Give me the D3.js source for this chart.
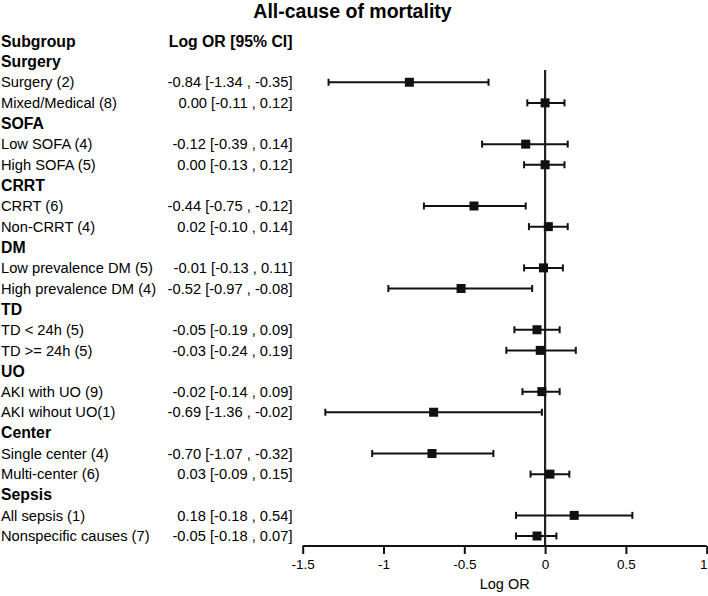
<!DOCTYPE html>
<html><head><meta charset="utf-8">
<script src="https://cdn.jsdelivr.net/npm/d3@7"></script>
<style>body{margin:0;background:#fff}svg{display:block}text{font-family:"Liberation Sans",Arial,sans-serif;fill:#000}</style>
</head><body><svg id="c" width="708" height="596"></svg>
<script>
const groups = ["Surgery","SOFA","CRRT","DM","TD","UO","Center","Sepsis"];
const labels = [
  ["Surgery (2)","Mixed/Medical (8)"],
  ["Low SOFA (4)","High SOFA (5)"],
  ["CRRT (6)","Non-CRRT (4)"],
  ["Low prevalence DM (5)","High prevalence DM (4)"],
  ["TD < 24h (5)","TD >= 24h (5)"],
  ["AKI with UO (9)","AKI wihout UO(1)"],
  ["Single center (4)","Multi-center (6)"],
  ["All sepsis (1)","Nonspecific causes (7)"]
];
const est  = [[-0.84,0.00],[-0.12,0.00],[-0.44,0.02],[-0.01,-0.52],[-0.05,-0.03],[-0.02,-0.69],[-0.70,0.03],[0.18,-0.05]];
const low  = [[-1.34,-0.11],[-0.39,-0.13],[-0.75,-0.10],[-0.13,-0.97],[-0.19,-0.24],[-0.14,-1.36],[-1.07,-0.09],[-0.18,-0.18]];
const high = [[-0.35,0.12],[0.14,0.12],[-0.12,0.14],[0.11,-0.08],[0.09,0.19],[0.09,-0.02],[-0.32,0.15],[0.54,0.07]];
const ticks = [-1.5,-1,-0.5,0,0.5,1];

const svg = d3.select("#c");
const x = d3.scaleLinear().domain([-1.5,1]).range([302.7,706.7]);
const nRows = 1 + groups.length*3;
const y = d3.scaleLinear().domain([0, nRows-1]).range([41, 536]);

const fmt = v => (v<0?"-":"") + Math.abs(v).toFixed(2);
const rows = [];
groups.forEach((g,gi)=>{
  rows.push({type:"group", text:g, idx:1+gi*3});
  labels[gi].forEach((l,j)=>{
    rows.push({type:"item", text:l, idx:1+gi*3+1+j, e:est[gi][j], lo:low[gi][j], hi:high[gi][j]});
  });
});

svg.append("text").attr("x",352.5).attr("y",18).attr("text-anchor","middle")
  .attr("font-size",19.5).attr("font-weight","bold").text("All-cause of mortality");
svg.append("text").attr("x",1).attr("y",y(0)).attr("dy","0.35em").attr("font-size",15.8).attr("font-weight","bold").text("Subgroup");
svg.append("text").attr("x",292.5).attr("y",y(0)).attr("dy","0.35em").attr("text-anchor","end").attr("font-size",15.8).attr("font-weight","bold").text("Log OR [95% CI]");

svg.selectAll("text.lab").data(rows).enter().append("text").attr("class","lab")
  .attr("x",1).attr("y",d=>y(d.idx)).attr("dy","0.35em")
  .attr("font-size",d=>d.type==="group"?15.8:14.7)
  .attr("font-weight",d=>d.type==="group"?"bold":"normal")
  .text(d=>d.text);

const items = rows.filter(d=>d.type==="item");
svg.selectAll("text.val").data(items).enter().append("text").attr("class","val")
  .attr("x",292.5).attr("y",d=>y(d.idx)).attr("dy","0.35em").attr("text-anchor","end")
  .attr("font-size",14.7)
  .text(d=>`${fmt(d.e)} [${fmt(d.lo)} , ${fmt(d.hi)}]`);

// reference line at 0
svg.append("line").attr("x1",x(0)).attr("x2",x(0)).attr("y1",70).attr("y2",546)
  .attr("stroke","#222").attr("stroke-width",2.2);

// axis
const axisG = svg.append("g").attr("transform","translate(0,546)")
  .call(d3.axisBottom(x).tickValues(ticks).tickSize(8).tickFormat(d=>String(d)));
axisG.select(".domain").attr("stroke","#111").attr("stroke-width",2).attr("d",`M${x(-1.5)},0H${x(1)}`);
axisG.selectAll(".tick line").attr("stroke","#111").attr("stroke-width",2);
axisG.selectAll(".tick text").attr("font-size",13.5).attr("font-family","Liberation Sans, Arial, sans-serif").attr("fill","#000").attr("dy","0.75em").attr("y",13);
// keep the last tick label inside the window
axisG.selectAll(".tick text").filter(d=>d===1).attr("text-anchor","end").attr("x",707-x(1));
svg.append("text").attr("x",(x(-1.5)+x(1))/2).attr("y",589).attr("text-anchor","middle").attr("font-size",14.5).text("Log OR");

// CIs
const g = svg.append("g");
g.selectAll("line.ci").data(items).enter().append("line")
  .attr("x1",d=>x(d.lo)).attr("x2",d=>x(d.hi)).attr("y1",d=>y(d.idx)).attr("y2",d=>y(d.idx))
  .attr("stroke","#111").attr("stroke-width",2);
g.selectAll("line.capl").data(items).enter().append("line")
  .attr("x1",d=>x(d.lo)).attr("x2",d=>x(d.lo)).attr("y1",d=>y(d.idx)-3.5).attr("y2",d=>y(d.idx)+3.5)
  .attr("stroke","#111").attr("stroke-width",2);
g.selectAll("line.caph").data(items).enter().append("line")
  .attr("x1",d=>x(d.hi)).attr("x2",d=>x(d.hi)).attr("y1",d=>y(d.idx)-3.5).attr("y2",d=>y(d.idx)+3.5)
  .attr("stroke","#111").attr("stroke-width",2);
g.selectAll("rect.pt").data(items).enter().append("rect")
  .attr("x",d=>x(d.e)-4.5).attr("y",d=>y(d.idx)-4.5).attr("width",9).attr("height",9)
  .attr("fill","#111");
</script></body></html>
